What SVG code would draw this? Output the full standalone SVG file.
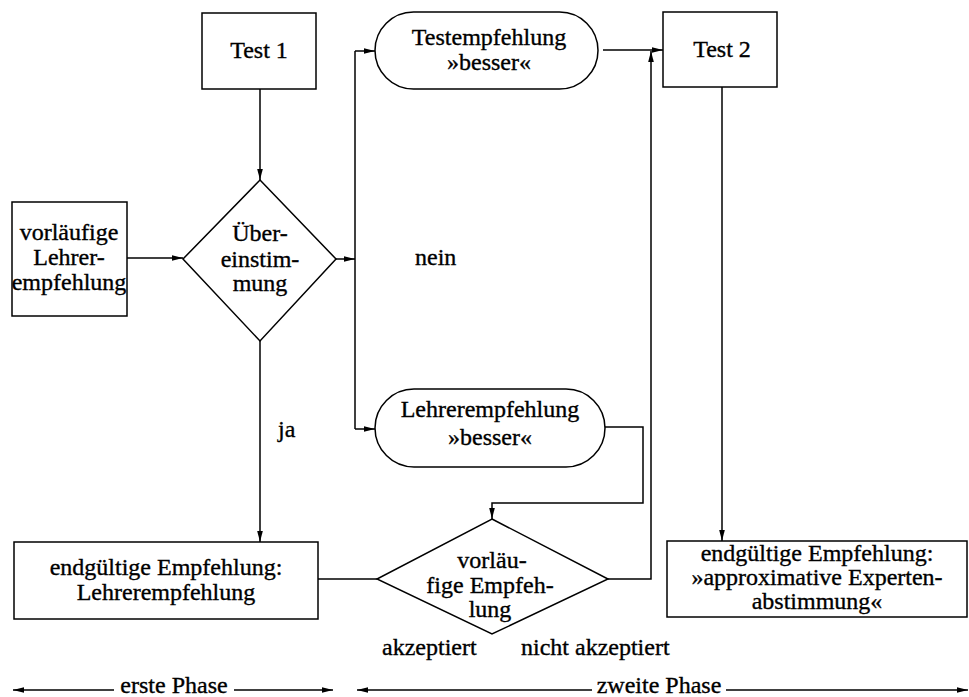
<svg xmlns="http://www.w3.org/2000/svg" width="969" height="697" viewBox="0 0 969 697">
  <defs>
    <marker id="arrow" markerUnits="userSpaceOnUse" markerWidth="12" markerHeight="8" refX="11" refY="4" orient="auto">
      <path d="M0,1.2 L11,4 L0,6.8 Z" fill="#000"/>
    </marker>
    <style>
      .shape { fill: #fff; stroke: #000; stroke-width: 1.5; }
      .line { fill: none; stroke: #000; stroke-width: 1.5; }
      .arr { fill: none; stroke: #000; stroke-width: 1.5; marker-end: url(#arrow); }
      .txt text { font-size: 24px; fill: #000; stroke: #000; stroke-width: 0.35; text-anchor: middle; }
      .txt .lbl { text-anchor: start; }
    </style>
  </defs>
  <rect width="969" height="697" fill="#fff"/>

  <!-- connectors -->
  <g id="connectors">
    <path class="arr" d="M260,89 L260,180"/>
    <path class="arr" d="M127,258 L183,258"/>
    <path class="arr" d="M336,259 L355,259"/>
    <path class="line" d="M355,51 L355,429"/>
    <path class="arr" d="M355,51 L375,51"/>
    <path class="arr" d="M355,429 L375,429"/>
    <path class="arr" d="M260,341 L260,542"/>
    <path class="arr" d="M603,50 L663,50"/>
    <path class="arr" d="M605,427 L643,427 L643,503 L492,503 L492,519"/>
    <path class="arr" d="M608,579 L651,579 L651,51"/>
    <path class="line" d="M377,579 L318,579"/>
    <path class="arr" d="M722,87 L722,541"/>
    <!-- phase arrows -->
    <path class="arr" d="M114,690 L13,690"/>
    <path class="arr" d="M234,690 L333,690"/>
    <path class="arr" d="M592,690 L357,690"/>
    <path class="arr" d="M726,690 L968,690"/>
  </g>

  <g class="txt" font-family="'Liberation Serif', 'DejaVu Serif', 'Times New Roman', serif">
    <g id="test1">
      <rect class="shape" x="202" y="13" width="114" height="76"/>
      <text x="259" y="58">Test 1</text>
    </g>

    <g id="vorlaeufige-lehrerempfehlung">
      <rect class="shape" x="12" y="202" width="115" height="114"/>
      <text x="69" y="240">vorläufige</text>
      <text x="69" y="265">Lehrer-</text>
      <text x="69" y="290">empfehlung</text>
    </g>

    <g id="uebereinstimmung">
      <polygon class="shape" points="260,180 336,259 260,341 183,259"/>
      <text x="260" y="241">Über-</text>
      <text x="260" y="267">einstim-</text>
      <text x="260" y="291">mung</text>
    </g>

    <g id="testempfehlung">
      <rect class="shape" x="375" y="12" width="223" height="77" rx="38.5" ry="38.5"/>
      <text x="489" y="45">Testempfehlung</text>
      <text x="489" y="70">»besser«</text>
    </g>

    <g id="test2">
      <rect class="shape" x="663" y="12" width="114" height="75"/>
      <text x="722" y="57">Test 2</text>
    </g>

    <g id="lehrerempfehlung">
      <rect class="shape" x="375" y="389" width="230" height="78" rx="39" ry="39"/>
      <text x="490" y="417">Lehrerempfehlung</text>
      <text x="490" y="445">»besser«</text>
    </g>

    <g id="vorlaeufige-empfehlung">
      <polygon class="shape" points="492,519 608,579 492,634 377,579"/>
      <text x="492" y="568">vorläu-</text>
      <text x="490" y="593">fige Empfeh-</text>
      <text x="490" y="617">lung</text>
    </g>

    <g id="endgueltig-lehrer">
      <rect class="shape" x="14" y="542" width="304" height="77"/>
      <text x="166" y="575">endgültige Empfehlung:</text>
      <text x="166" y="600">Lehrerempfehlung</text>
    </g>

    <g id="endgueltig-experten">
      <rect class="shape" x="667" y="541" width="300" height="76"/>
      <text x="817" y="561">endgültige Empfehlung:</text>
      <text x="817" y="585">»approximative Experten-</text>
      <text x="817" y="609">abstimmung«</text>
    </g>

    <!-- edge and phase labels -->
    <g id="labels">
      <text class="lbl" x="415" y="265">nein</text>
      <text class="lbl" x="278" y="437">ja</text>
      <text class="lbl" x="382" y="655">akzeptiert</text>
      <text class="lbl" x="521" y="655">nicht akzeptiert</text>
      <text x="174" y="693">erste Phase</text>
      <text x="659" y="693">zweite Phase</text>
    </g>
  </g>
</svg>
